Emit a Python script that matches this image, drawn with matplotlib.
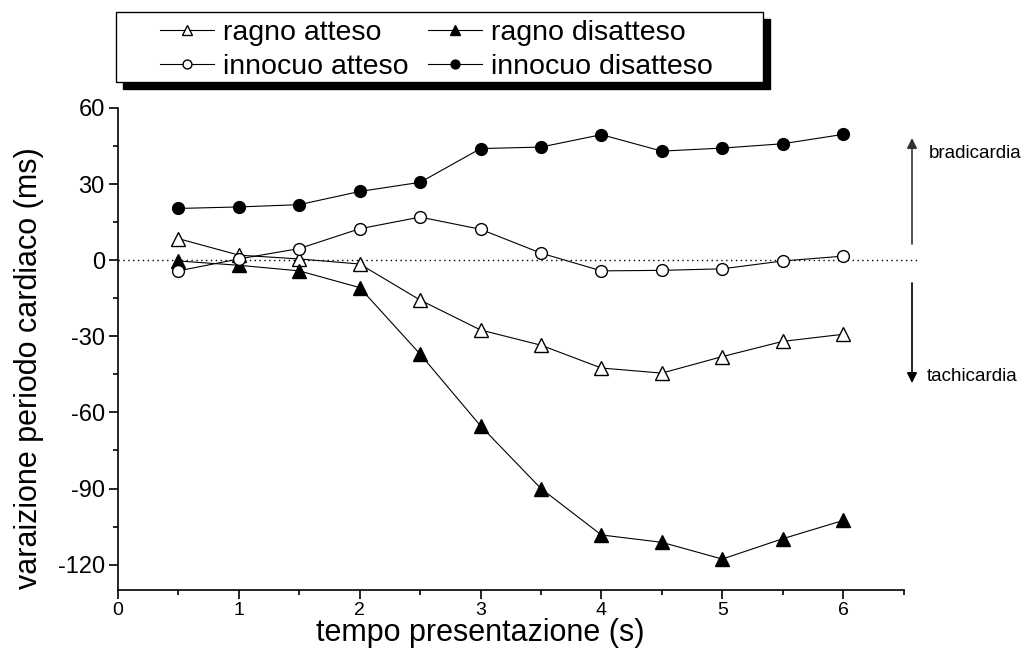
import matplotlib
matplotlib.use("Agg")
import matplotlib.pyplot as plt
from matplotlib.patches import Rectangle
from matplotlib.ticker import MultipleLocator

plt.rcParams['font.family'] = ['Liberation Sans', 'DejaVu Sans']

# ---- data ----
time_s = [0.5, 1.0, 1.5, 2.0, 2.5, 3.0, 3.5, 4.0, 4.5, 5.0, 5.5, 6.0]
ragno_atteso = [8.5, 2.0, 0.5, -1.5, -15.7, -27.5, -33.5, -42.5, -44.5, -38.0, -32.0, -29.2]
ragno_disatteso = [-0.3, -2.0, -4.2, -10.8, -37.0, -65.3, -90.0, -108.3, -111.2, -117.8, -109.8, -102.6]
innocuo_atteso = [-4.2, 0.5, 4.6, 12.4, 17.0, 12.2, 2.8, -4.2, -4.0, -3.4, -0.3, 1.6]
innocuo_disatteso = [20.4, 21.0, 21.9, 27.1, 30.7, 44.0, 44.6, 49.5, 43.0, 44.2, 45.9, 49.6]

series_labels = ["ragno atteso", "ragno disatteso", "innocuo atteso", "innocuo disatteso"]
x_ticks = [0, 1, 2, 3, 4, 5, 6]
y_ticks = [-120, -90, -60, -30, 0, 30, 60]
x_label = "tempo presentazione (s)"
y_label = "varaizione periodo cardiaco (ms)"
note_up = "bradicardia"
note_down = "tachicardia"

W, H = 1032, 666
fig = plt.figure(figsize=(W / 100, H / 100), dpi=100)
fig.patch.set_facecolor('white')

L, R, T, B = 118, 903.5, 108, 590
ax = fig.add_axes([L / W, 1 - B / H, (R - L) / W, (B - T) / H])
ax.set_xlim(0, 6.5)
ax.set_ylim(-130, 60)

for s in ['top', 'right']:
    ax.spines[s].set_visible(False)
for s in ['left', 'bottom']:
    ax.spines[s].set_linewidth(1.2)

ax.set_xticks(x_ticks)
ax.set_yticks(y_ticks)
ax.xaxis.set_minor_locator(MultipleLocator(0.5))
ax.yaxis.set_minor_locator(MultipleLocator(15))
ax.tick_params(which='major', direction='out', length=6.5, width=1.2)
ax.tick_params(axis='x', which='major', labelsize=14, pad=2)
ax.tick_params(axis='y', which='major', labelsize=17, pad=3)
ax.tick_params(which='minor', direction='out', length=3.5, width=1.2)
ax.set_xticklabels([str(v) for v in x_ticks])
ax.set_yticklabels([str(v) for v in y_ticks])

ax.set_xlabel(x_label, fontsize=22)
ax.xaxis.set_label_coords(3 / 6.5, -0.058)
ax.set_ylabel(y_label, fontsize=22)
ax.yaxis.set_label_coords(-0.094, (-45 + 130) / 190 + 6 / 482)

# zero dotted line
ax.plot([0, 6.62], [0, 0], linestyle=(0, (1, 2.5)), color='black', lw=1.0, clip_on=False, zorder=1)

common = dict(color='black', lw=0.8, markeredgecolor='black', markeredgewidth=1.0, clip_on=False, zorder=3)
h1, = ax.plot(time_s, ragno_atteso, marker='^', markersize=10, markerfacecolor='white', label=series_labels[0], **common)
h2, = ax.plot(time_s, ragno_disatteso, marker='^', markersize=10, markerfacecolor='black', label=series_labels[1], **common)
h3, = ax.plot(time_s, innocuo_atteso, marker='o', markersize=8.5, markerfacecolor='white', label=series_labels[2], **common)
h4, = ax.plot(time_s, innocuo_disatteso, marker='o', markersize=8.5, markerfacecolor='black', label=series_labels[3], **common)

# legend box with shadow (pixel coords measured from top)
bx0, by0, bx1, by1 = 116, 12, 763, 82
sh = 7
fig.patches.append(Rectangle((bx0 / W + sh / W, 1 - (by1 + sh) / H), (bx1 - bx0) / W, (by1 - by0) / H,
                             transform=fig.transFigure, facecolor='black', edgecolor='black', zorder=3))
fig.patches.append(Rectangle((bx0 / W, 1 - by1 / H), (bx1 - bx0) / W, (by1 - by0) / H,
                             transform=fig.transFigure, facecolor='white', edgecolor='black', lw=1.0, zorder=4))
order = [0, 2, 1, 3]
hs = [h1, h2, h3, h4]
leg = fig.legend(handles=[hs[i] for i in order], labels=[series_labels[i] for i in order], ncol=2, frameon=False,
                 loc='upper left', bbox_to_anchor=(160 / W, 1 - 20 / H), borderpad=0, borderaxespad=0,
                 fontsize=20.5, handlelength=1.9, handletextpad=0.3, columnspacing=0.7,
                 labelspacing=0.27, markerscale=0.75)
leg.set_zorder(5)

# annotations
ax_x = 912
fig.add_artist(matplotlib.text.Annotation('', xy=(ax_x, H - 138), xytext=(ax_x, H - 244),
               xycoords='figure pixels', textcoords='figure pixels',
               arrowprops=dict(arrowstyle='-|>', color='#333333', lw=1.2, mutation_scale=15, shrinkA=0, shrinkB=0)))
fig.add_artist(matplotlib.text.Annotation('', xy=(ax_x, H - 383), xytext=(ax_x, H - 283),
               xycoords='figure pixels', textcoords='figure pixels',
               arrowprops=dict(arrowstyle='-|>', color='black', lw=1.2, mutation_scale=15, shrinkA=0, shrinkB=0)))
fig.text(929 / W, 1 - 154 / H, note_up, fontsize=13.5, va='center', ha='left')
fig.text(927 / W, 1 - 376 / H, note_down, fontsize=13.5, va='center', ha='left')

fig.savefig('out.png', dpi=100, facecolor='white')
